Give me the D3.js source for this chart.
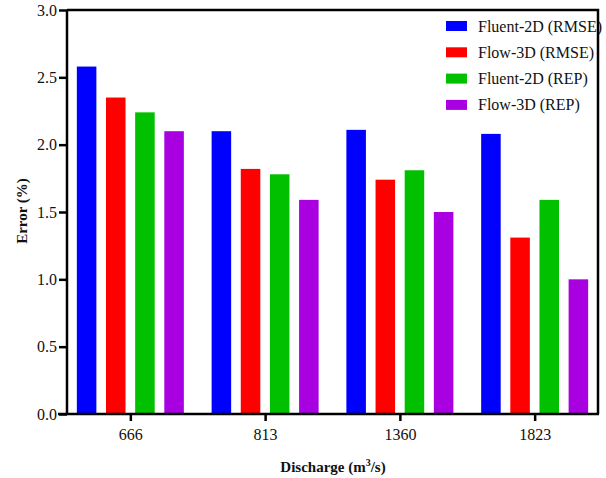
<!DOCTYPE html>
<html>
<head>
<meta charset="utf-8">
<script src="https://cdn.jsdelivr.net/npm/d3@7"></script>
<style>
  html, body { margin: 0; padding: 0; background: #fff; }
  svg { display: block; }
</style>
</head>
<body>
<svg id="chart" width="606" height="478"></svg>
<script>
const categories = ["666", "813", "1360", "1823"];
const seriesNames = ["Fluent-2D (RMSE)", "Flow-3D (RMSE)", "Fluent-2D (REP)", "Flow-3D (REP)"];
const fluent2dRMSE = [2.58, 2.10, 2.11, 2.08];
const flow3dRMSE   = [2.35, 1.82, 1.74, 1.31];
const fluent2dREP  = [2.24, 1.78, 1.81, 1.59];
const flow3dREP    = [2.10, 1.59, 1.50, 1.00];
const seriesValues = [fluent2dRMSE, flow3dRMSE, fluent2dREP, flow3dREP];
const colors = ["#0000ff", "#ff0000", "#00c000", "#a800e0"];
const yTicks = [0, 0.5, 1.0, 1.5, 2.0, 2.5, 3.0];

const FONT = "'Liberation Serif', 'Times New Roman', Times, serif";
const svg = d3.select("#chart");
const m = { left: 67, right: 598, top: 10, bottom: 414 };

const x = d3.scalePoint().domain(categories).range([m.left, m.right]).padding(0.47);
const sub = d3.scaleBand().domain(d3.range(seriesNames.length)).range([-53.5, 53.5]).paddingInner(0.33);
const y = d3.scaleLinear().domain([0, 3]).range([m.bottom, m.top]);

// bars
seriesValues.forEach((vals, si) => {
  svg.append("g").selectAll("rect").data(vals).join("rect")
    .attr("x", (d, i) => x(categories[i]) + sub(si))
    .attr("width", sub.bandwidth())
    .attr("y", d => y(d))
    .attr("height", d => y(0) - y(d))
    .attr("fill", colors[si]);
});

// legend
const leg = svg.append("g");
seriesNames.forEach((name, i) => {
  const cy = 26 + i * 26.3;
  leg.append("rect").attr("x", 446).attr("y", cy - 5).attr("width", 21).attr("height", 10).attr("fill", colors[i]);
  leg.append("text").attr("x", 478).attr("y", cy + 5.5)
    .style("font-family", FONT).style("font-size", "16px").attr("fill", "#111").text(name);
});

// axes
const yAxis = d3.axisLeft(y).tickValues(yTicks).tickFormat(d3.format(".1f")).tickSize(8).tickPadding(2);
const gy = svg.append("g").attr("transform", `translate(${m.left},0)`).call(yAxis);
gy.select(".domain").attr("stroke", "#000").attr("stroke-width", 2.5).attr("d", `M0,${m.top}V${m.bottom}`);
gy.selectAll(".tick line").attr("stroke", "#000").attr("stroke-width", 2.5);
gy.selectAll(".tick text").style("font-family", FONT).style("font-size", "16px").attr("fill", "#111");

const xAxis = d3.axisBottom(x).tickSize(7).tickPadding(8);
const gx = svg.append("g").attr("transform", `translate(0,${m.bottom})`).call(xAxis);
gx.select(".domain").attr("stroke", "#000").attr("stroke-width", 2.5).attr("d", `M${m.left - 9},0H${m.right + 1}`);
gx.selectAll(".tick line").attr("stroke", "#000").attr("stroke-width", 2.5);
gx.selectAll(".tick text").style("font-family", FONT).style("font-size", "16px").attr("fill", "#111");

// frame top and right
svg.append("path").attr("d", `M${m.left},${m.top}H${m.right}V${m.bottom}`)
  .attr("fill", "none").attr("stroke", "#000").attr("stroke-width", 2.5);

// titles
svg.append("text").attr("x", 333).attr("y", 472).attr("text-anchor", "middle")
  .style("font-family", FONT).style("font-size", "15px").style("font-weight", "bold").attr("fill", "#111")
  .html('Discharge (m<tspan dy="-6" font-size="10">3</tspan><tspan dy="6">/s)</tspan>');
svg.append("text").attr("transform", "translate(27,211) rotate(-90)").attr("text-anchor", "middle")
  .style("font-family", FONT).style("font-size", "15px").style("font-weight", "bold").attr("fill", "#111").text("Error (%)");
</script>
</body>
</html>
